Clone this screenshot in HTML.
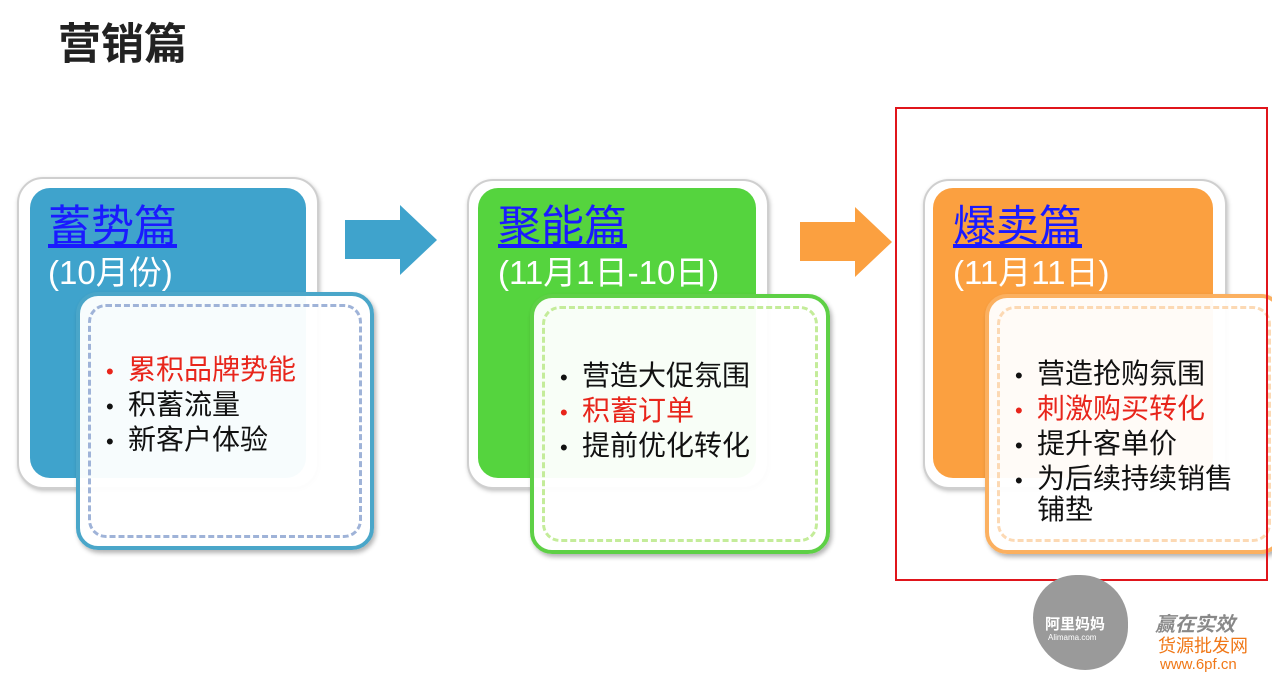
<!DOCTYPE html>
<html><head><meta charset="utf-8"><style>
body{margin:0;width:1272px;height:688px;background:#fff;position:relative;overflow:hidden;font-family:"Liberation Sans","Noto Sans CJK SC",sans-serif}
.a{position:absolute}
.outer{position:absolute;background:#fff;border:2px solid #cfcfcf;border-radius:26px;box-shadow:1px 2px 4px rgba(0,0,0,.25)}
.inner{position:absolute;border-radius:20px}
.h{position:absolute;font-size:43px;color:#1a1aff;text-decoration:underline;line-height:1;white-space:nowrap}
.s{position:absolute;font-size:33px;color:#fff;line-height:1;white-space:nowrap}
.box{position:absolute;background:rgba(255,255,255,.96);border-radius:22px;box-shadow:2px 3px 5px rgba(0,0,0,.3)}
.dash{position:absolute;left:8px;top:8px;right:8px;bottom:8px;border:3px dashed;border-radius:18px}
.ul{position:absolute;font-size:28px;white-space:nowrap;color:#111}
.ul div{height:35px;line-height:35px}
.ul div::before{content:"•";display:inline-block;width:22px;font-size:22px;line-height:20px}
.ul div.nb::before{content:""}
.r{color:#e8251b}
</style></head><body>
<div class="a" style="left:58px;top:20px;font-size:43px;font-weight:bold;color:#222;line-height:50px">营销篇</div>

<div class="outer" style="left:17px;top:177px;width:298px;height:308px"></div>
<div class="inner" style="left:30px;top:188px;width:276px;height:290px;background:#3fa3cc"></div>
<div class="h" style="left:48px;top:206px">蓄势篇</div>
<div class="s" style="left:48px;top:256px">(10月份)</div>
<div class="box" style="left:76px;top:292px;width:290px;height:250px;border:4px solid #4aa6c9"><div class="dash" style="border-color:#9fb3d8"></div></div>
<div class="ul" style="left:106px;top:352px"><div class="r">累积品牌势能</div><div>积蓄流量</div><div>新客户体验</div></div>

<svg class="a" style="left:344px;top:204px" width="95" height="72"><polygon points="1,16 56,16 56,1 93,36 56,71 56,55 1,55" fill="#3fa3cc"/></svg>

<div class="outer" style="left:467px;top:179px;width:298px;height:306px"></div>
<div class="inner" style="left:478px;top:188px;width:278px;height:290px;background:#55d43e"></div>
<div class="h" style="left:498px;top:206px">聚能篇</div>
<div class="s" style="left:498px;top:256px">(11月1日-10日)</div>
<div class="box" style="left:530px;top:294px;width:292px;height:252px;border:4px solid #5ed046"><div class="dash" style="border-color:#c4ec9a"></div></div>
<div class="ul" style="left:560px;top:358px"><div>营造大促氛围</div><div class="r">积蓄订单</div><div>提前优化转化</div></div>

<svg class="a" style="left:799px;top:206px" width="95" height="72"><polygon points="1,16 56,16 56,1 93,36 56,71 56,55 1,55" fill="#fba040"/></svg>

<div class="outer" style="left:923px;top:179px;width:300px;height:306px"></div>
<div class="inner" style="left:933px;top:188px;width:280px;height:290px;background:#fba040"></div>
<div class="h" style="left:953px;top:206px">爆卖篇</div>
<div class="s" style="left:953px;top:256px">(11月11日)</div>
<div class="box" style="left:985px;top:294px;width:290px;height:252px;border:4px solid #fbb060"><div class="dash" style="border-color:#fcd9b4"></div></div>
<div class="ul" style="left:1015px;top:356px"><div>营造抢购氛围</div><div class="r">刺激购买转化</div><div>提升客单价</div><div>为后续持续销售</div><div class="nb" style="margin-top:-4px">铺垫</div></div>

<div class="a" style="left:895px;top:107px;width:369px;height:470px;border:2px solid #e0151b"></div>

<div class="a" style="left:1033px;top:575px;width:95px;height:95px;background:#9a9a9a;border-radius:45% 50% 45% 55%"></div>
<div class="a" style="left:1045px;top:613px;color:#fff;font-size:15px;font-weight:bold">阿里妈妈</div>
<div class="a" style="left:1048px;top:633px;color:#fff;font-size:8px">Alimama.com</div>
<div class="a" style="left:1155px;top:608px;color:#888;font-size:20px;font-style:italic;font-weight:bold">赢在实效</div>
<div class="a" style="left:1158px;top:632px;color:#f07818;font-size:18px">货源批发网</div>
<div class="a" style="left:1160px;top:656px;color:#f07818;font-size:15px">www.6pf.cn</div>
</body></html>
